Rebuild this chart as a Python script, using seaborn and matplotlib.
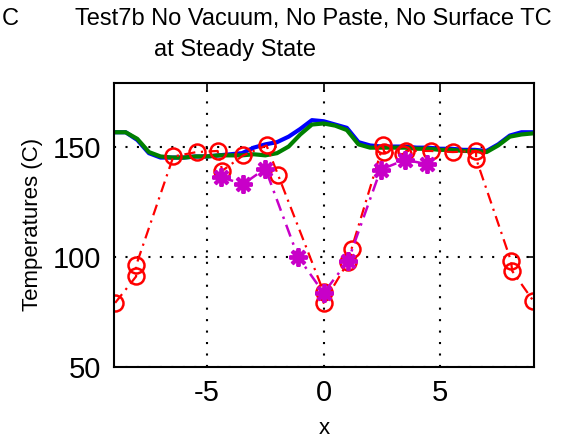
import matplotlib
matplotlib.use("Agg")
import numpy as np
import pandas as pd
import matplotlib.pyplot as plt
import seaborn as sns

# ---- data ----
pos = [-9.0, -8.5, -8.0, -7.5, -7.0, -6.5, -6.0, -5.5, -5.0, -4.5, -4.0, -3.5,
       -3.0, -2.5, -2.0, -1.5, -1.0, -0.5, 0.0, 0.5, 1.0, 1.5, 2.0, 2.5,
       3.0, 3.5, 4.0, 4.5, 5.0, 5.5, 6.0, 6.5, 7.0, 7.5, 8.0, 8.5, 9.0]
temp_blue = [156.5, 156.5, 153.0, 147.0, 145.0, 145.0, 145.0, 145.5, 145.5, 146.0, 146.5, 147.0,
             149.5, 151.0, 152.0, 154.5, 158.0, 162.0, 161.5, 160.0, 158.5, 152.0, 150.5, 150.0,
             150.0, 150.0, 149.5, 149.5, 149.0, 149.0, 148.5, 148.5, 148.0, 151.0, 155.0, 156.5, 156.5]
temp_green = [156.5, 156.5, 153.5, 147.5, 145.5, 145.0, 145.0, 145.5, 145.5, 146.0, 146.0, 146.0,
              146.5, 146.0, 147.0, 150.0, 155.5, 160.0, 160.5, 159.5, 157.5, 151.0, 149.5, 149.5,
              149.5, 149.5, 149.0, 149.0, 148.5, 148.5, 148.0, 148.0, 147.5, 150.5, 154.5, 155.5, 156.0]

red_x = [-8.95, -8.05, -8.05, -6.45, -5.45, -4.55, -4.35, -3.45, -2.45, -1.95, 0.0, 0.0,
         1.05, 1.2, 2.55, 2.6, 3.4, 3.55, 4.6, 5.55, 6.55, 6.55, 8.05, 8.1, 9.0]
red_y = [79, 91, 96, 145.5, 147.5, 148, 139, 146, 150.5, 137, 84, 79,
         97.5, 103.5, 150.5, 147.5, 146.5, 148, 148, 147.5, 148, 144.5, 98, 93.5, 80]

mag_x = [-4.4, -3.45, -2.5, -1.1, 0.0, 1.05, 2.45, 3.5, 4.45]
mag_y = [136, 133, 140, 100, 83.5, 98, 139.5, 144, 142]

xticks = [-5, 0, 5]
yticks = [50, 100, 150]

sns.set_style("white")
plt.rcParams['font.family'] = ['Liberation Sans', 'DejaVu Sans']
plt.rcParams['axes.unicode_minus'] = False
plt.rcParams['text.color'] = 'black'
plt.rcParams['axes.labelcolor'] = 'black'

fig = plt.figure(figsize=(5.61, 4.4), dpi=100)
ax = fig.add_axes([0.2032, 0.1666, 0.7492, 0.6454])

sns.lineplot(x=pos, y=temp_blue, color='#0000ff', lw=3, estimator=None, sort=False, ax=ax)
sns.lineplot(x=pos, y=temp_green, color='#008000', lw=3, estimator=None, sort=False, ax=ax)
sns.lineplot(x=red_x, y=red_y, color='#ff0000', lw=1.6, estimator=None, sort=False, ax=ax,
             linestyle=(0, (5, 2.5, 1, 2.5)), marker='o', markersize=11.5,
             markerfacecolor='none', markeredgecolor='#ff0000', markeredgewidth=1.8)
sns.lineplot(x=mag_x, y=mag_y, color='#c800c8', lw=1.8, estimator=None, sort=False, ax=ax,
             linestyle=(0, (5, 2.5, 1, 2.5)), marker=(8, 2, 0), markersize=13,
             markeredgecolor='#c800c8', markeredgewidth=2.8)

ax.set_xlim(-9.0, 9.05)
ax.set_ylim(50, 179)
ax.set_xticks(xticks)
ax.set_yticks(yticks)
ax.grid(True, color='black', linestyle=(0, (1, 4.5)), linewidth=1.5)
ax.tick_params(direction='in', length=5, width=1.2, labelsize=21, top=True, right=True,
               color='black', labelcolor='black')
ax.tick_params(axis='y', pad=9)
ax.tick_params(axis='x', pad=9)
for s in ax.spines.values():
    s.set_color('black')
    s.set_linewidth(1.5)

ax.set_xlabel('x', fontsize=16, labelpad=8)
ax.set_ylabel('Temperatures (C)', fontsize=16, labelpad=7)

fig.text(75 / 561, 1 - 19 / 440, 'Test7b No Vacuum, No Paste, No Surface TC',
         fontsize=17, ha='left', va='center')
fig.text(154 / 561, 1 - 50 / 440, 'at Steady State', fontsize=17, ha='left', va='center')
fig.text(2 / 561, 1 - 19 / 440, 'C', fontsize=17, ha='left', va='center')

fig.savefig('out.png', dpi=100)
